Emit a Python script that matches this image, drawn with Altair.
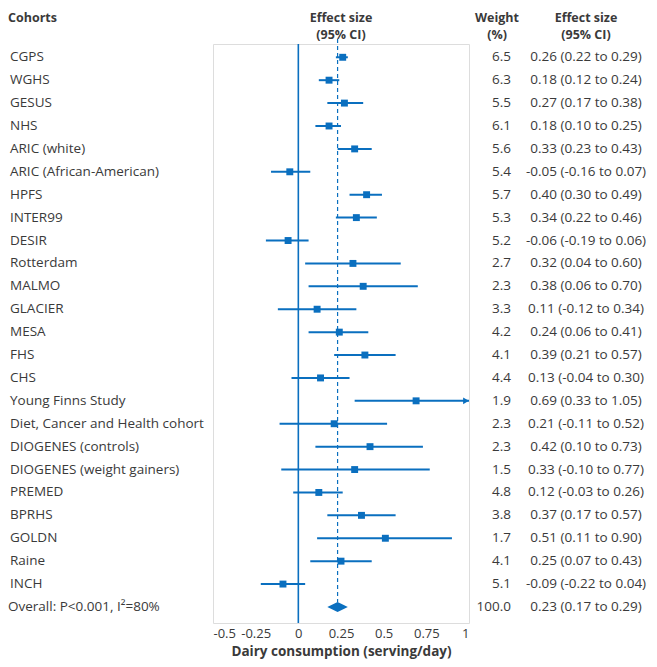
import altair as alt
import pandas as pd

cohorts = ["CGPS", "WGHS", "GESUS", "NHS", "ARIC (white)", "ARIC (African-American)",
           "HPFS", "INTER99", "DESIR", "Rotterdam", "MALMO", "GLACIER", "MESA", "FHS",
           "CHS", "Young Finns Study", "Diet, Cancer and Health cohort",
           "DIOGENES (controls)", "DIOGENES (weight gainers)", "PREMED", "BPRHS",
           "GOLDN", "Raine", "INCH"]
weights = [6.5, 6.3, 5.5, 6.1, 5.6, 5.4, 5.7, 5.3, 5.2, 2.7, 2.3, 3.3, 4.2, 4.1,
           4.4, 1.9, 2.3, 2.3, 1.5, 4.8, 3.8, 1.7, 4.1, 5.1]
est = [0.26, 0.18, 0.27, 0.18, 0.33, -0.05, 0.40, 0.34, -0.06, 0.32, 0.38, 0.11,
       0.24, 0.39, 0.13, 0.69, 0.21, 0.42, 0.33, 0.12, 0.37, 0.51, 0.25, -0.09]
lo = [0.22, 0.12, 0.17, 0.10, 0.23, -0.16, 0.30, 0.22, -0.19, 0.04, 0.06, -0.12,
      0.06, 0.21, -0.04, 0.33, -0.11, 0.10, -0.10, -0.03, 0.17, 0.11, 0.07, -0.22]
hi = [0.29, 0.24, 0.38, 0.25, 0.43, 0.07, 0.49, 0.46, 0.06, 0.60, 0.70, 0.34,
      0.41, 0.57, 0.30, 1.05, 0.52, 0.73, 0.77, 0.26, 0.57, 0.90, 0.43, 0.04]
overall_label = "Overall: P<0.001, I²=80%"
overall_weight = 100.0
overall_est, overall_lo, overall_hi = 0.23, 0.17, 0.29
x_ticks = [-0.5, -0.25, 0, 0.25, 0.5, 0.75, 1]
x_max = 1.0

BLUE = "#0a6fbf"
TXT = "#3a3a3a"
FONT = "Open Sans"
FS = 13.5
HFS = 12.5

def fmt(v):
    return f"{v:.2f}"

n = len(cohorts)
df = pd.DataFrame({
    "name": cohorts, "weight": [f"{w:.1f}" for w in weights],
    "est": est, "lo": lo, "hi": hi, "idx": list(range(n)),
})
df["hi_c"] = [min(h, x_max) for h in hi]
df["label"] = [f"{fmt(e)} ({fmt(l)} to {fmt(h)})" for e, l, h in zip(est, lo, hi)]
df["arrow"] = [h > x_max for h in hi]

ov = pd.DataFrame({
    "name": [overall_label], "weight": [f"{overall_weight:.1f}"],
    "idx": [n], "label": [f"{fmt(overall_est)} ({fmt(overall_lo)} to {fmt(overall_hi)})"],
})
half = 0.22
diamond = pd.DataFrame({
    "x": [overall_lo, overall_est, overall_hi],
    "y": [n, n - half, n],
    "y2": [n, n + half, n],
})
dash = pd.DataFrame({"x": [overall_est], "y": [-0.8], "y2": [n - half]})

yscale = alt.Scale(domain=[-0.58, n + 0.7], reverse=True, nice=False, zero=False)
xscale = alt.Scale(domain=[-0.5, 1.0], nice=False, zero=False)
Y = alt.Y("idx:Q", scale=yscale, axis=None)

base = alt.Chart(df)

zero = alt.Chart(pd.DataFrame({"x": [0]})).mark_rule(color=BLUE, strokeWidth=1.6).encode(
    x=alt.X("x:Q", scale=xscale,
            axis=alt.Axis(values=x_ticks, labelExpr="'' + datum.value", domain=False,
                          ticks=False, grid=False, labelFont=FONT, labelFontSize=13,
                          labelColor=TXT, labelPadding=4,
                          title="Dairy consumption (serving/day)", titleFont=FONT,
                          titleFontSize=FS, titleFontWeight="bold", titleColor=TXT,
                          titlePadding=4))
)

dashed = alt.Chart(dash).mark_rule(color=BLUE, strokeWidth=1.2, strokeDash=[4, 3]).encode(
    x=alt.X("x:Q", scale=xscale), y=alt.Y("y:Q", scale=yscale, axis=None), y2="y2:Q"
)

ci = base.mark_rule(color=BLUE, strokeWidth=2).encode(
    x=alt.X("lo:Q", scale=xscale), x2="hi_c:Q", y=Y
)
sq = base.mark_point(shape="square", filled=True, opacity=1, color=BLUE, size=48).encode(
    x=alt.X("est:Q", scale=xscale), y=Y
)
arrow = base.transform_filter("datum.arrow").mark_point(
    shape="triangle-right", filled=True, opacity=1, color=BLUE, size=45, xOffset=-3
).encode(x=alt.X("hi_c:Q", scale=xscale), y=Y)

dia = alt.Chart(diamond).mark_area(color=BLUE, orient="vertical", opacity=1).encode(
    x=alt.X("x:Q", scale=xscale, sort=None), y=alt.Y("y:Q", scale=yscale, axis=None), y2="y2:Q"
)

def txt(data, field, xpx, align, weight="normal"):
    return alt.Chart(data).mark_text(
        align=align, baseline="middle", font=FONT, fontSize=FS, color=TXT, fontWeight=weight
    ).encode(x=alt.value(xpx), y=Y, text=f"{field}:N")

names = txt(df, "name", -203, "left")
oname = txt(ov, "name", -205, "left")
wts = txt(df, "weight", 298, "right")
owts = txt(ov, "weight", 298, "right")
labs = txt(df, "label", 373, "center")
olabs = txt(ov, "label", 373, "center")

headers = [
    ("Cohorts", -205, -26.5, "left"),
    ("Effect size", 128, -26.5, "center"),
    ("(95% CI)", 128, -9, "center"),
    ("Weight", 284, -26.5, "center"),
    ("(%)", 284, -9, "center"),
    ("Effect size", 373, -26.5, "center"),
    ("(95% CI)", 373, -9, "center"),
]
hdr_layers = []
for t, xpx, ypx, a in headers:
    hdr_layers.append(
        alt.Chart(pd.DataFrame({"k": [0]})).mark_text(
            align=a, baseline="middle", font=FONT, fontSize=HFS, color=TXT,
            fontWeight="bold", text=t
        ).encode(x=alt.value(xpx), y=alt.value(ypx))
    )

chart = alt.layer(zero, dashed, ci, sq, arrow, dia, names, oname, wts, owts, labs, olabs,
                  *hdr_layers).properties(
    width=256, height=579,
    autosize=alt.AutoSizeParams(type="none"),
    padding={"left": 205, "top": 36, "right": 180, "bottom": 36},
).configure_view(fill="#ebebeb", stroke=None).configure(background="white")

chart.save("out.html", embed_options={"renderer": "svg", "actions": False})
